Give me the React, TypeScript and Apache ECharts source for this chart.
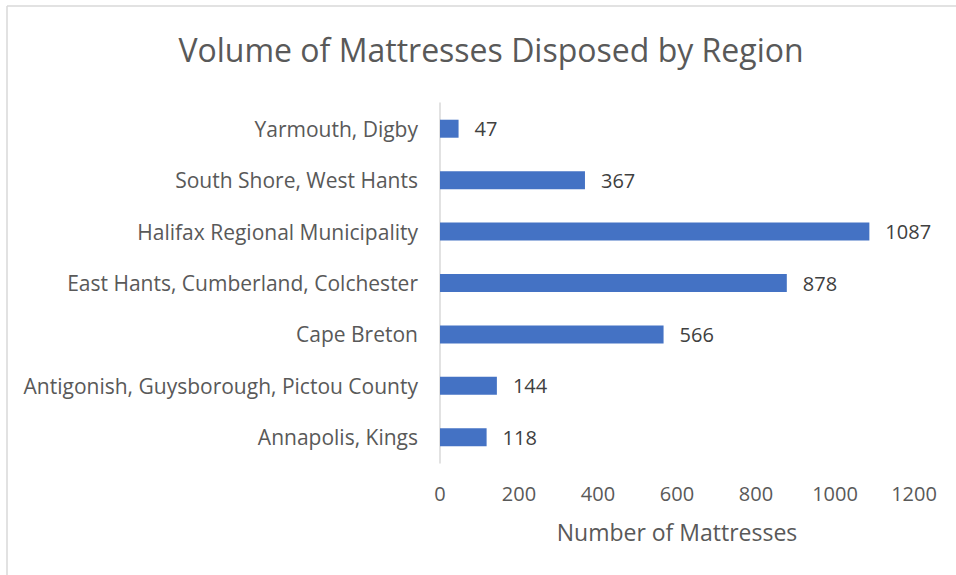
import React, { useEffect, useRef } from "react";
import * as echarts from "echarts";

const categories = [
  "Annapolis, Kings",
  "Antigonish, Guysborough, Pictou County",
  "Cape Breton",
  "East Hants, Cumberland, Colchester",
  "Halifax Regional Municipality",
  "South Shore, West Hants",
  "Yarmouth, Digby",
];
const values = [118, 144, 566, 878, 1087, 367, 47];
const titleText = "Volume of Mattresses Disposed by Region";
const xAxisName = "Number of Mattresses";

export default function App() {
  const ref = useRef<HTMLDivElement>(null);
  useEffect(() => {
    if (!ref.current) return;
    const chart = echarts.init(ref.current, null, { renderer: "svg" });
    const font = "'Open Sans', sans-serif";
    chart.setOption({
      animation: false,
      backgroundColor: "#ffffff",
      title: {
        text: titleText,
        left: 486,
        textAlign: "center",
        top: 28,
        textStyle: { fontFamily: font, fontSize: 32, fontWeight: "normal", color: "#595959" },
      },
      grid: { left: 440, right: 42, top: 103, bottom: 112, containLabel: false },
      xAxis: {
        type: "value",
        min: 0,
        max: 1200,
        interval: 200,
        name: xAxisName,
        nameLocation: "middle",
        nameGap: 57,
        nameTextStyle: { fontFamily: font, fontSize: 23, color: "#595959" },
        axisLine: { show: false },
        axisTick: { show: false },
        splitLine: { show: false },
        axisLabel: {
          fontFamily: font,
          fontSize: 20,
          color: "#595959",
          margin: 20,
          formatter: (v: number) => String(v),
        },
      },
      yAxis: {
        type: "category",
        data: categories,
        axisLine: { show: true, lineStyle: { color: "#d9d9d9", width: 1.5 } },
        axisTick: { show: false },
        axisLabel: { fontFamily: font, fontSize: 21, color: "#595959", margin: 22 },
      },
      series: [
        {
          type: "bar",
          data: values,
          barWidth: 18,
          itemStyle: { color: "#4472C4" },
          label: {
            show: true,
            position: "right",
            distance: 16,
            fontFamily: font,
            fontSize: 20,
            color: "#404040",
          },
        },
      ],
      graphic: [
        { type: "line", shape: { x1: 7, y1: 6, x2: 956, y2: 6 }, style: { stroke: "#d9d9d9", lineWidth: 1.5 } },
        { type: "line", shape: { x1: 7, y1: 6, x2: 7, y2: 575 }, style: { stroke: "#d9d9d9", lineWidth: 1.5 } },
      ],
    });
    return () => chart.dispose();
  }, []);
  return (
    <div
      ref={ref}
      style={{ position: "fixed", left: 0, top: 0, width: 956, height: 575 }}
    />
  );
}
